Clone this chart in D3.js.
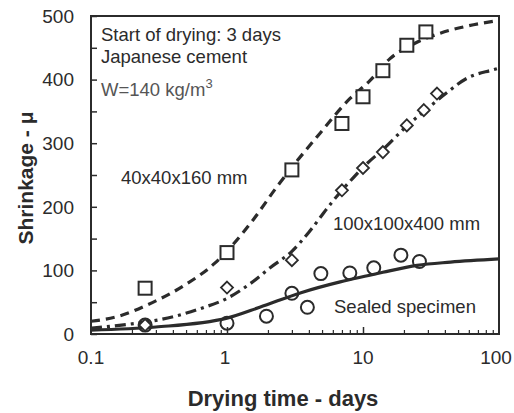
<!DOCTYPE html>
<html>
<head>
<meta charset="utf-8">
<script src="https://cdn.jsdelivr.net/npm/d3@7"></script>
<style>
  body { margin: 0; background: #fff; }
  text { font-family: "Liberation Sans", Arial, sans-serif; fill: #2b2b2b; }
</style>
</head>
<body>
<div id="chart"></div>
<script>
// measured points
const daysSmall = [0.25, 1, 3, 7, 10, 14, 21, 29];
const shrinkSmall = [72, 128, 258, 331, 373, 414, 454, 475];

const daysLarge = [0.25, 1, 3, 7, 10, 14, 21, 28, 35];
const shrinkLarge = [14, 73, 116, 226, 261, 286, 328, 352, 378];

const daysSealed = [0.25, 1, 1.95, 3, 3.9, 4.9, 8, 12, 19, 26];
const shrinkSealed = [14, 17, 28, 64, 42, 95, 96, 104, 124, 114];

// fitted curves
const fitSmallX = [0.1, 0.16, 0.28, 0.49, 0.81, 1.1, 1.55, 2.3, 3.3, 4.8, 8, 11.2, 15.8, 23.5, 37, 58, 100];
const fitSmallY = [20, 28, 49, 77, 111, 140, 179, 230, 273, 315, 370, 398, 433, 456, 473, 484, 493];

const fitLargeX = [0.1, 0.2, 0.33, 0.66, 1, 1.5, 2.1, 3, 4, 5.7, 8.5, 10.7, 14, 21, 29.6, 41.6, 58, 89, 100];
const fitLargeY = [9, 16, 23, 41, 56, 80, 105, 130, 160, 203, 246, 268, 290, 327, 354, 380, 402, 415, 418];

const fitSealedX = [0.1, 0.3, 1, 1.74, 3.5, 6.8, 11, 14, 25, 44, 100];
const fitSealedY = [6, 11, 25, 42, 65, 82, 92, 97, 108, 113, 118];

const xTicks = [0.1, 1, 10, 100];
const yTicks = [0, 100, 200, 300, 400, 500];

const width = 514, height = 413;
const margin = { top: 16, right: 15, bottom: 79, left: 91 };
const ink = '#2b2b2b';

const svg = d3.select('#chart')
    .append('svg')
    .attr('width', width)
    .attr('height', height);

const x = d3.scaleLog()
    .domain([0.1, 100])
    .range([margin.left, width - margin.right]);

const y = d3.scaleLinear()
    .domain([0, 500])
    .range([height - margin.bottom, margin.top]);

// frame
svg.append('rect')
    .attr('x', x(0.1))
    .attr('y', y(500))
    .attr('width', x(100) - x(0.1))
    .attr('height', y(0) - y(500))
    .attr('fill', 'none')
    .attr('stroke', ink)
    .attr('stroke-width', 2);

// y ticks, inside
svg.append('g')
    .attr('transform', `translate(${x(0.1)},0)`)
    .call(d3.axisRight(y).tickValues(d3.range(0, 501, 50)).tickSize(6).tickFormat(''))
    .call(g => g.select('.domain').remove())
    .call(g => g.selectAll('line').attr('stroke', ink).attr('stroke-width', 1.5));

svg.append('g')
    .selectAll('text')
    .data(yTicks)
    .enter()
        .append('text')
        .attr('x', x(0.1) - 17)
        .attr('y', d => y(d))
        .attr('dy', '0.36em')
        .attr('text-anchor', 'end')
        .attr('font-size', 19)
        .text(d => d);

// x ticks, inside
const minor = [];
[0.1, 1, 10].forEach(dec => d3.range(2, 10).forEach(k => minor.push(dec * k)));

svg.append('g')
    .attr('transform', `translate(0,${y(0)})`)
    .call(d3.axisTop(x).tickValues(minor).tickSize(4).tickFormat(''))
    .call(g => g.select('.domain').remove())
    .call(g => g.selectAll('line').attr('stroke', ink).attr('stroke-width', 1.2));

svg.append('g')
    .attr('transform', `translate(0,${y(0)})`)
    .call(d3.axisTop(x).tickValues([1, 10]).tickSize(7).tickFormat(''))
    .call(g => g.select('.domain').remove())
    .call(g => g.selectAll('line').attr('stroke', ink).attr('stroke-width', 1.5));

svg.append('g')
    .selectAll('text')
    .data(xTicks)
    .enter()
        .append('text')
        .attr('x', d => x(d) - (d === 100 ? 3 : d === 1 ? 2 : 0))
        .attr('y', y(0) + 30)
        .attr('text-anchor', 'middle')
        .attr('font-size', 19)
        .text(d => d);

// axis titles
svg.append('text')
    .attr('x', 283)
    .attr('y', 406)
    .attr('text-anchor', 'middle')
    .attr('font-size', 22)
    .attr('font-weight', 'bold')
    .text('Drying time - days');

svg.append('text')
    .attr('transform', 'translate(33,178) rotate(-90)')
    .attr('text-anchor', 'middle')
    .attr('font-size', 21)
    .attr('font-weight', 'bold')
    .text('Shrinkage -  μ');

// curves
const line = d3.line()
    .x(d => x(d[0]))
    .y(d => y(d[1]))
    .curve(d3.curveMonotoneX);

const curves = [
    { xs: fitSealedX, ys: fitSealedY, dash: null },
    { xs: fitLargeX, ys: fitLargeY, dash: '11,5,3,5' },
    { xs: fitSmallX, ys: fitSmallY, dash: '9,6' }
];

curves.forEach(c => {
    svg.append('path')
        .datum(d3.zip(c.xs, c.ys))
        .attr('d', line)
        .attr('fill', 'none')
        .attr('stroke', ink)
        .attr('stroke-width', 3.2)
        .attr('stroke-dasharray', c.dash);
});

// markers
svg.append('g')
    .selectAll('circle')
    .data(d3.zip(daysSealed, shrinkSealed))
    .enter()
        .append('circle')
        .attr('cx', d => x(d[0]))
        .attr('cy', d => y(d[1]))
        .attr('r', 6.5)
        .attr('fill', 'none')
        .attr('stroke', ink)
        .attr('stroke-width', 2);

svg.append('g')
    .selectAll('path')
    .data(d3.zip(daysLarge, shrinkLarge))
    .enter()
        .append('path')
        .attr('transform', d => `translate(${x(d[0])},${y(d[1])})`)
        .attr('d', 'M0,-6L6,0L0,6L-6,0Z')
        .attr('fill', '#fff')
        .attr('stroke', ink)
        .attr('stroke-width', 1.8);

svg.append('g')
    .selectAll('rect')
    .data(d3.zip(daysSmall, shrinkSmall))
    .enter()
        .append('rect')
        .attr('x', d => x(d[0]) - 6.5)
        .attr('y', d => y(d[1]) - 6.5)
        .attr('width', 13)
        .attr('height', 13)
        .attr('fill', '#fff')
        .attr('stroke', ink)
        .attr('stroke-width', 2);

// annotations
const notes = svg.append('g').attr('font-size', 18.5);
notes.append('text').attr('x', 101).attr('y', 41).text('Start of drying: 3 days');
notes.append('text').attr('x', 101).attr('y', 63).text('Japanese cement');
const w = notes.append('text').attr('x', 101).attr('y', 96).style('fill', '#555');
w.append('tspan').text('W=140 kg/m');
w.append('tspan').attr('font-size', 13).attr('dy', -8).text('3');
notes.append('text').attr('x', 121).attr('y', 184).text('40x40x160  mm');
notes.append('text').attr('x', 333).attr('y', 230).text('100x100x400 mm');
notes.append('text').attr('x', 334).attr('y', 313).text('Sealed specimen');
</script>
</body>
</html>
